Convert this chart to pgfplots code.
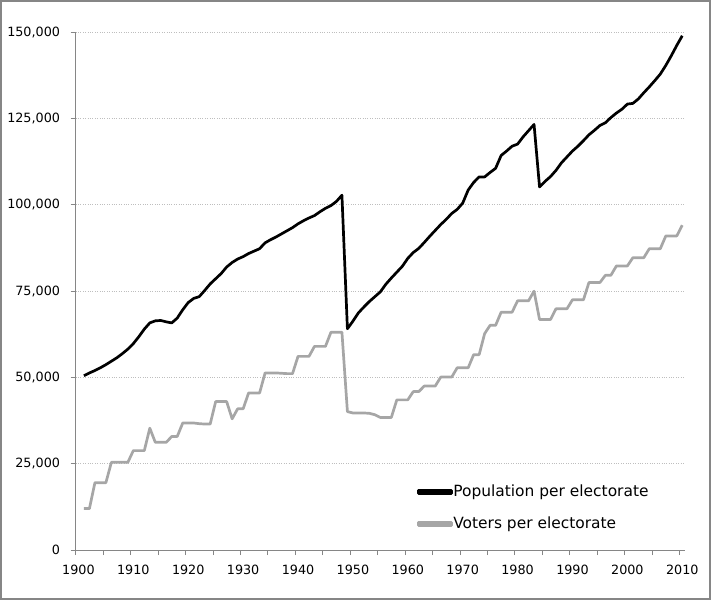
\documentclass[border=0pt]{standalone}
\usepackage{pgfplots}
\pgfplotsset{compat=1.18}
\usepackage{pgfplotstable}
\usepackage{fontspec}
\setmainfont{DejaVu Sans}

\definecolor{axisgray}{RGB}{134,134,134}
\definecolor{gridgray}{RGB}{190,190,190}
\definecolor{votergray}{RGB}{166,166,166}

% year, population per electorate, voters per electorate
\pgfplotstableread{
year pop voters
1901 50500 12000
1902 51300 12000
1903 52000 19500
1904 52800 19500
1905 53700 19500
1906 54700 25400
1907 55700 25400
1908 56900 25400
1909 58200 25400
1910 59800 28800
1911 61800 28800
1912 64000 28800
1913 65800 35300
1914 66400 31200
1915 66500 31200
1916 66100 31200
1917 65800 32900
1918 67200 32900
1919 69600 36800
1920 71700 36800
1921 72900 36800
1922 73400 36600
1923 75200 36500
1924 77100 36500
1925 78600 43000
1926 80100 43000
1927 82000 43000
1928 83300 38000
1929 84300 40900
1930 85000 40900
1931 85900 45500
1932 86600 45500
1933 87300 45500
1934 89000 51300
1935 89900 51300
1936 90700 51300
1937 91600 51200
1938 92500 51100
1939 93400 51100
1940 94500 56100
1941 95400 56100
1942 96200 56100
1943 96900 59000
1944 98000 59000
1945 99000 59000
1946 99800 63100
1947 101000 63100
1948 102800 63100
1949 64100 40100
1950 66300 39700
1951 68700 39700
1952 70400 39700
1953 72000 39600
1954 73400 39200
1955 74800 38400
1956 77000 38400
1957 78800 38400
1958 80500 43500
1959 82200 43500
1960 84500 43500
1961 86200 45900
1962 87400 45900
1963 89100 47500
1964 90900 47500
1965 92600 47500
1966 94300 50100
1967 95800 50100
1968 97500 50100
1969 98700 52800
1970 100500 52800
1971 104300 52800
1972 106500 56600
1973 108100 56600
1974 108100 62700
1975 109400 65100
1976 110600 65100
1977 114300 68900
1978 115600 68900
1979 117000 68900
1980 117600 72200
1981 119700 72200
1982 121500 72200
1983 123300 75000
1984 105200 66800
1985 106800 66800
1986 108200 66800
1987 110000 69900
1988 112200 69900
1989 113900 69900
1990 115600 72500
1991 117000 72500
1992 118600 72500
1993 120300 77500
1994 121600 77500
1995 123000 77500
1996 123800 79600
1997 125300 79600
1998 126600 82300
1999 127700 82300
2000 129200 82300
2001 129400 84700
2002 130700 84700
2003 132500 84700
2004 134200 87300
2005 136000 87300
2006 137900 87300
2007 140400 91000
2008 143200 91000
2009 146200 91000
2010 149000 94100
}\electorates

\begin{document}
\begin{tikzpicture}
\useasboundingbox (0,0) rectangle (711bp,600bp);
\draw[axisgray, line width=2bp] (1bp,1bp) rectangle (710bp,599bp);
\begin{axis}[
  at={(75.7bp,50bp)}, anchor=south west,
  scale only axis, width=609.3bp, height=517.7bp,
  xmin=1899.5, xmax=2010.5, ymin=0, ymax=150000,
  axis x line=bottom, axis y line=left,
  axis line style={axisgray, line width=0.8bp, -},
  tick style={axisgray, line width=0.8bp},
  tick align=outside,
  xtick={1900,1910,...,2010},
  xticklabels={1900,1910,1920,1930,1940,1950,1960,1970,1980,1990,2000,2010},
  minor xtick={1899.5,1904.5,...,2009.5},
  major x tick style={draw=none},
  minor tick length=5bp,
  major tick length=5bp,
  scaled y ticks=false,
  ytick={0,25000,50000,75000,100000,125000,150000},
  yticklabels={0,{25,000},{50,000},{75,000},{100,000},{125,000},{150,000}},
  ymajorgrids,
  major y grid style={gridgray, dotted, line width=0.8bp},
  yticklabel style={font=\fontsize{12.8}{15}\selectfont, inner sep=0pt, xshift=-10.5bp},
  xticklabel style={font=\fontsize{12.8}{15}\selectfont, inner sep=0pt, yshift=-10bp},
  legend style={at={(0.56,0.081)}, anchor=west, draw=none, fill=none,
    inner sep=0pt, row sep=15bp, font=\fontsize{15.5}{18}\selectfont,
    nodes={inner sep=0.5pt, text height=12bp, text depth=4bp}},
  legend cell align=left,
  legend image code/.code={\fill[#1] (0bp,-1.4bp) rectangle (33bp,1.4bp);},
  line join=round,
]
\addplot[black, line width=2.7bp] table[x=year, y=pop] {\electorates};
\addlegendentry{Population per electorate}
\addplot[votergray, line width=2.7bp] table[x=year, y=voters] {\electorates};
\addlegendentry{Voters per electorate}
\end{axis}
\end{tikzpicture}
\end{document}
